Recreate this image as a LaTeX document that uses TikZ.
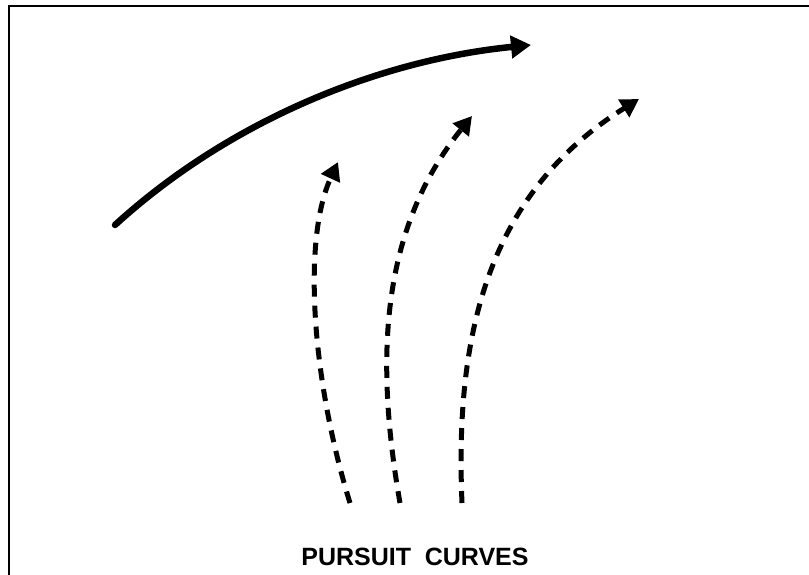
\documentclass[tikz,border=0pt]{standalone}
\usepackage{fontspec}
\setmainfont{Liberation Sans}
\usetikzlibrary{arrows.meta}
\begin{document}
\begin{tikzpicture}[x=1pt,y=-1pt,
  frame/.style={line width=2pt},
  solidpath/.style={line width=6.5pt,line cap=round,-{Triangle[length=20pt,width=22pt]}},
  pursuit/.style={line width=5pt,dash pattern=on 12pt off 9pt,-{Triangle[length=18pt,width=20pt]}}]
\useasboundingbox (0,0) rectangle (809,575);
\draw[frame] (9,575) -- (9,6) -- (809,6);
\coordinate (s0) at (115,225);
\coordinate (s1) at (531,45);
\draw[solidpath] (s0) .. controls (230,120) and (380,60) .. (s1);
\coordinate (a0) at (350,503);
\coordinate (a1) at (338,162);
\draw[pursuit] (a0) .. controls (312,380) and (302,240) .. (a1);
\coordinate (b0) at (400,503);
\coordinate (b1) at (472,116);
\draw[pursuit] (b0) .. controls (375,360) and (380,230) .. (b1);
\coordinate (c0) at (462,503);
\coordinate (c1) at (639,99);
\draw[pursuit] (c0) .. controls (455,340) and (485,195) .. (c1);
\node[font=\bfseries\fontsize{25}{29}\selectfont] (title) at (415,557) {PURSUIT\hspace{0.55em}CURVES};
\end{tikzpicture}
\end{document}
